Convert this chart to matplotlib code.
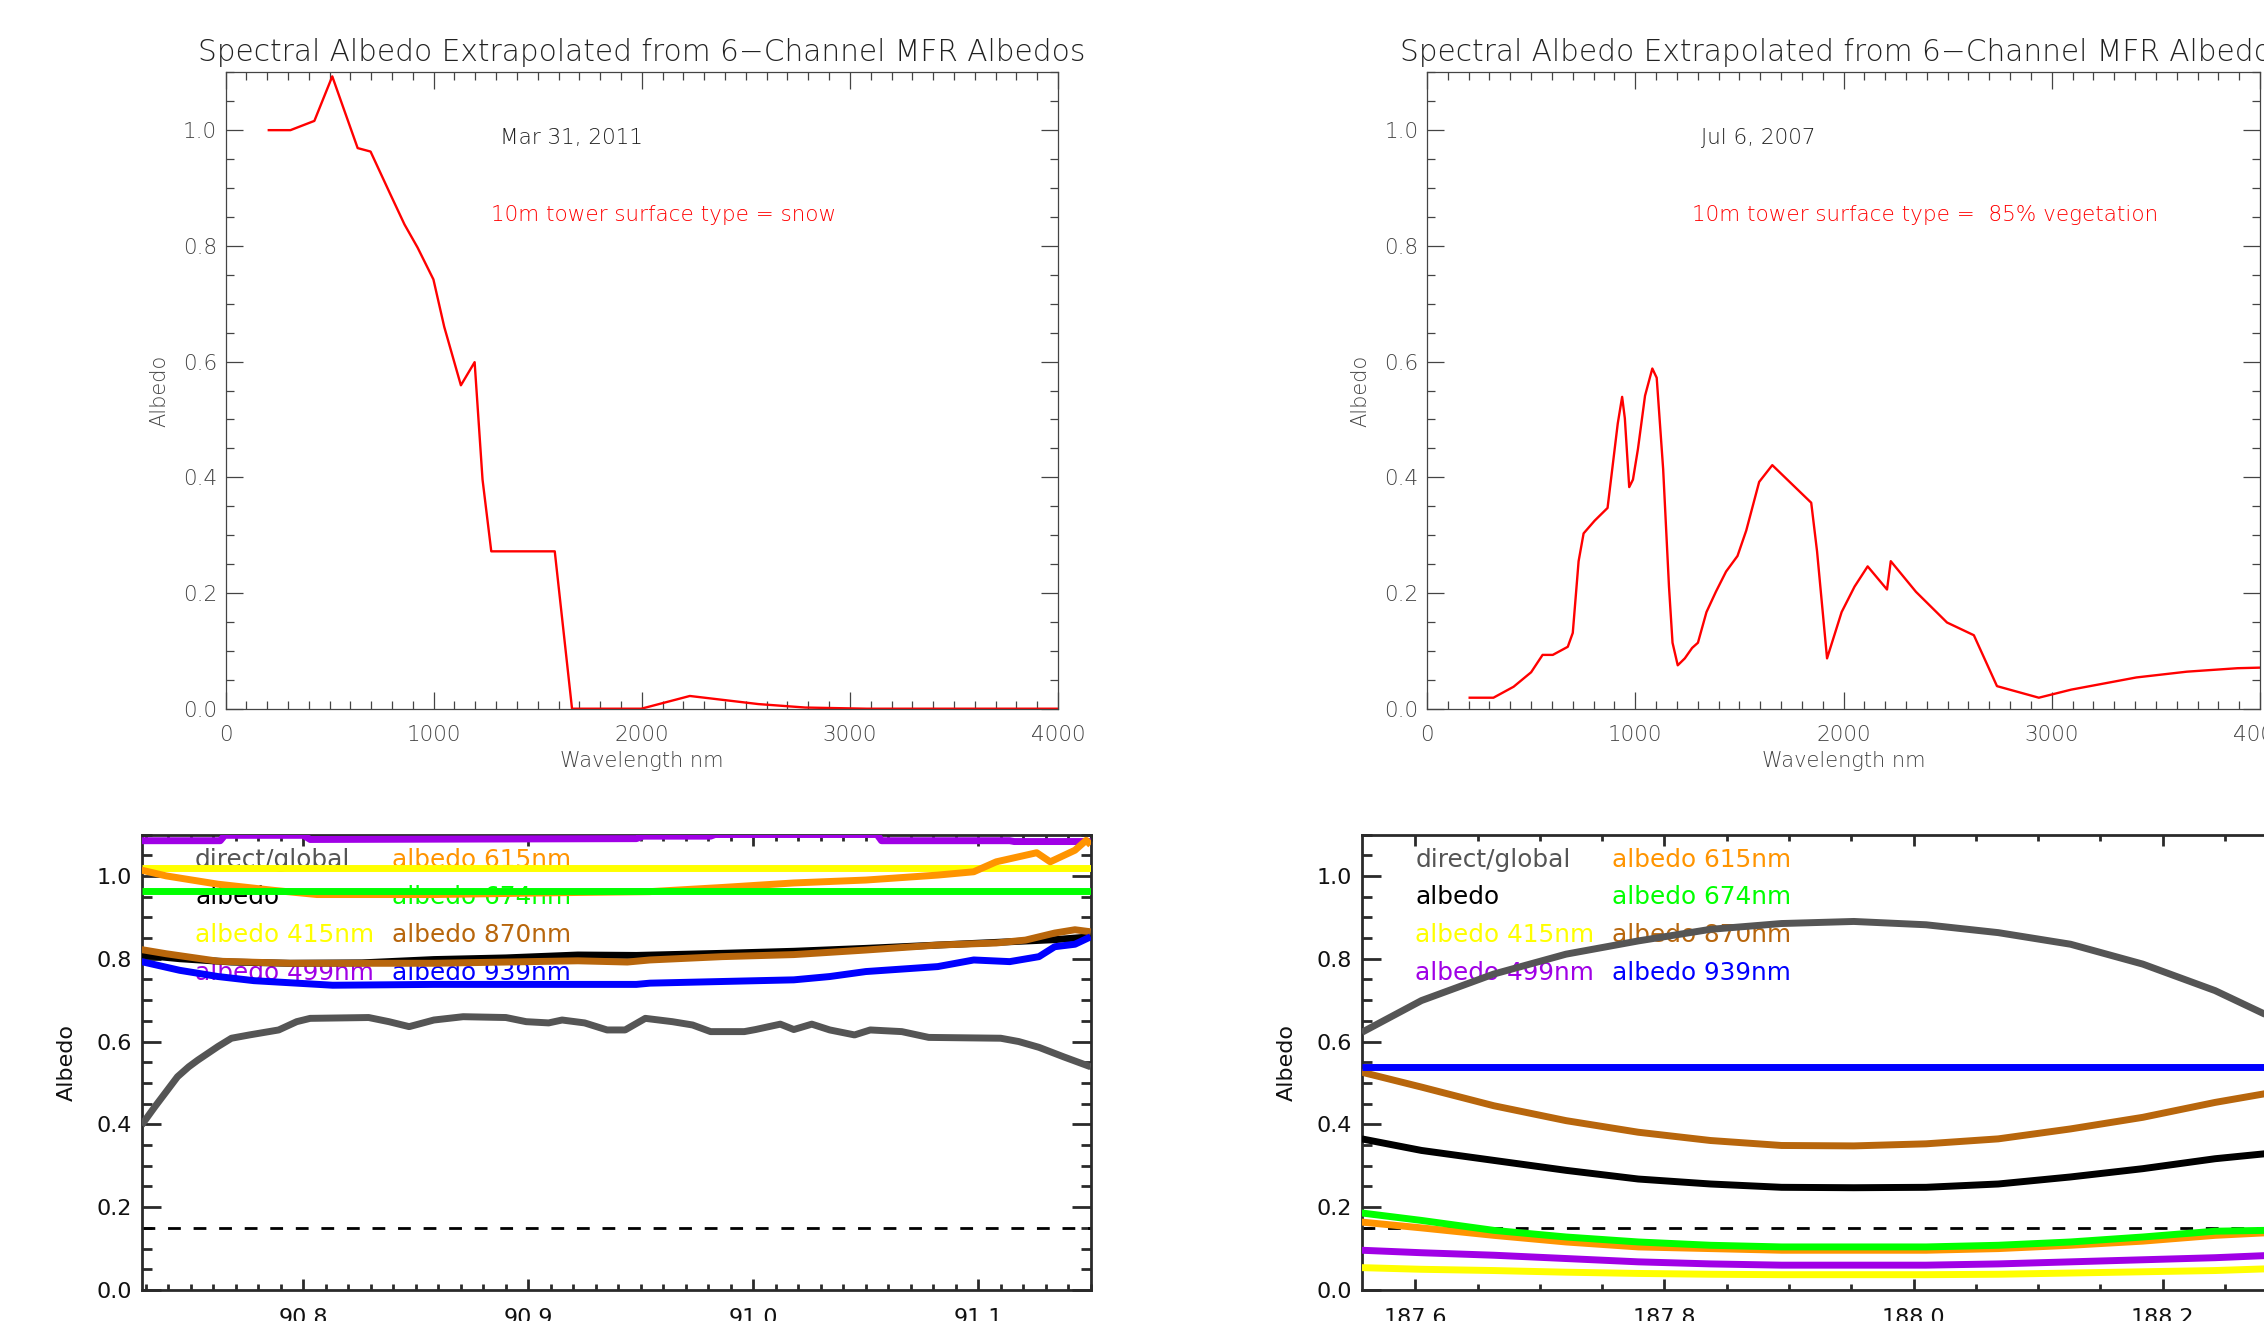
import matplotlib
matplotlib.use("Agg")
import matplotlib.pyplot as plt
from matplotlib.ticker import MultipleLocator, FormatStrFormatter

# ---------------- data ----------------
snow_wl = [208, 312, 427, 513, 565, 635, 697, 791, 860, 923, 999, 1051, 1131, 1197,
           1235, 1277, 1582, 1665, 1797, 1998, 2231, 2560, 2786, 3081, 4000]
snow_alb = [1.0, 1.0, 1.016, 1.093, 1.040, 0.969, 0.963, 0.890, 0.837, 0.797, 0.742,
            0.660, 0.559, 0.599, 0.396, 0.272, 0.272, 0.0, 0.0, 0.0, 0.022, 0.008,
            0.002, 0.0, 0.0]

veg_wl = [205, 319, 416, 500, 555, 604, 676, 700, 728, 752, 805, 867, 916, 937, 950,
          971, 989, 1013, 1047, 1082, 1103, 1134, 1162, 1179, 1204, 1238, 1273, 1301,
          1342, 1387, 1436, 1491, 1533, 1595, 1658, 1845, 1873, 1921, 1991, 2053, 2116,
          2209, 2227, 2348, 2497, 2626, 2737, 2938, 3094, 3406, 3649, 3892, 4003]
veg_alb = [0.019, 0.019, 0.038, 0.063, 0.093, 0.093, 0.107, 0.131, 0.255, 0.303, 0.325,
           0.347, 0.493, 0.539, 0.502, 0.383, 0.396, 0.449, 0.541, 0.588, 0.572, 0.414,
           0.211, 0.114, 0.075, 0.087, 0.105, 0.114, 0.167, 0.202, 0.237, 0.264, 0.308,
           0.392, 0.421, 0.356, 0.272, 0.087, 0.167, 0.211, 0.246, 0.206, 0.255, 0.202,
           0.149, 0.127, 0.039, 0.019, 0.033, 0.054, 0.064, 0.070, 0.071]

# bottom-left time series (day of year)
dg1_t = [90.728, 90.734, 90.744, 90.749, 90.753, 90.762, 90.768, 90.776, 90.789, 90.797,
         90.803, 90.829, 90.838, 90.847, 90.858, 90.871, 90.890, 90.899, 90.909, 90.915,
         90.925, 90.935, 90.943, 90.952, 90.964, 90.973, 90.981, 90.996, 91.001, 91.012,
         91.018, 91.026, 91.034, 91.045, 91.052, 91.066, 91.078, 91.110, 91.118, 91.127,
         91.138, 91.150]
dg1_v = [0.398, 0.443, 0.515, 0.539, 0.555, 0.588, 0.608, 0.616, 0.628, 0.648, 0.656,
         0.658, 0.648, 0.636, 0.652, 0.660, 0.658, 0.648, 0.645, 0.652, 0.645, 0.628,
         0.628, 0.656, 0.648, 0.640, 0.624, 0.624, 0.629, 0.642, 0.629, 0.642, 0.628,
         0.616, 0.628, 0.624, 0.610, 0.608, 0.600, 0.586, 0.563, 0.539]
alb1_t = [90.728, 90.745, 90.768, 90.794, 90.826, 90.858, 90.890, 90.922, 90.948, 90.986,
          91.018, 91.050, 91.082, 91.114, 91.134, 91.150]
alb1_v = [0.809, 0.800, 0.792, 0.789, 0.790, 0.798, 0.802, 0.809, 0.808, 0.813, 0.818,
          0.825, 0.833, 0.841, 0.846, 0.853]
a415_1_t = [90.728, 91.150]
a415_1_v = [1.018, 1.018]
a499_1_t = [90.728, 90.763, 90.765, 90.800, 90.803, 90.948, 90.951, 90.981, 90.983,
            91.055, 91.057, 91.114, 91.116, 91.150]
a499_1_v = [1.085, 1.085, 1.098, 1.098, 1.088, 1.090, 1.096, 1.096, 1.100, 1.100, 1.085,
            1.085, 1.083, 1.083]
a615_1_t = [90.728, 90.739, 90.762, 90.787, 90.806, 90.858, 90.922, 90.954, 90.986, 91.018,
            91.050, 91.082, 91.098, 91.108, 91.126, 91.132, 91.143, 91.148, 91.150]
a615_1_v = [1.014, 1.000, 0.980, 0.965, 0.955, 0.955, 0.960, 0.962, 0.972, 0.983, 0.990,
            1.002, 1.010, 1.034, 1.056, 1.034, 1.062, 1.086, 1.075]
a674_1_t = [90.728, 91.150]
a674_1_v = [0.964, 0.964]
a870_1_t = [90.728, 90.739, 90.762, 90.794, 90.826, 90.858, 90.890, 90.922, 90.944, 90.954,
            90.986, 91.018, 91.050, 91.082, 91.108, 91.121, 91.134, 91.143, 91.150]
a870_1_v = [0.822, 0.812, 0.794, 0.789, 0.789, 0.789, 0.792, 0.795, 0.792, 0.797, 0.805,
            0.810, 0.821, 0.833, 0.838, 0.845, 0.862, 0.870, 0.865]
a939_1_t = [90.728, 90.745, 90.762, 90.778, 90.813, 90.858, 90.890, 90.948, 90.954, 90.986,
            91.018, 91.034, 91.050, 91.082, 91.098, 91.114, 91.127, 91.134, 91.143, 91.150]
a939_1_v = [0.793, 0.772, 0.757, 0.747, 0.736, 0.738, 0.738, 0.738, 0.741, 0.745, 0.749,
            0.757, 0.769, 0.781, 0.797, 0.793, 0.805, 0.829, 0.835, 0.853]

# bottom-right time series
t2 = [187.557, 187.605, 187.663, 187.721, 187.779, 187.837, 187.894, 187.952, 188.010,
      188.068, 188.126, 188.184, 188.242, 188.282, 188.320]
dg2_v = [0.622, 0.699, 0.763, 0.811, 0.843, 0.871, 0.885, 0.890, 0.882, 0.863, 0.835,
         0.787, 0.723, 0.666, 0.620]
alb2_v = [0.365, 0.337, 0.313, 0.289, 0.268, 0.256, 0.248, 0.247, 0.248, 0.256, 0.273,
          0.293, 0.317, 0.329, 0.345]
a415_2_v = [0.054, 0.050, 0.047, 0.043, 0.040, 0.038, 0.037, 0.037, 0.037, 0.038, 0.041,
            0.044, 0.047, 0.051, 0.054]
a499_2_v = [0.096, 0.090, 0.084, 0.076, 0.068, 0.063, 0.060, 0.060, 0.060, 0.063, 0.068,
            0.073, 0.078, 0.083, 0.088]
a615_2_v = [0.164, 0.150, 0.132, 0.116, 0.104, 0.100, 0.096, 0.096, 0.096, 0.100, 0.108,
            0.118, 0.132, 0.138, 0.145]
a674_2_v = [0.186, 0.168, 0.144, 0.128, 0.116, 0.108, 0.104, 0.104, 0.104, 0.108, 0.116,
            0.128, 0.142, 0.144, 0.155]
a870_2_v = [0.526, 0.490, 0.445, 0.409, 0.381, 0.361, 0.349, 0.348, 0.353, 0.365, 0.389,
            0.417, 0.453, 0.474, 0.500]
a939_2_v = [0.539] * 15

threshold = 0.15

legend_labels = [["direct/global", "albedo 615nm"],
                 ["albedo", "albedo 674nm"],
                 ["albedo 415nm", "albedo 870nm"],
                 ["albedo 499nm", "albedo 939nm"]]
legend_colors = [["#555555", "#ff9400"],
                 ["#000000", "#00ff00"],
                 ["#ffff00", "#b8660c"],
                 ["#a000e6", "#0000ff"]]

C_GRAY = "#555555"; C_BLACK = "#000000"; C_415 = "#ffff00"; C_499 = "#a000e6"
C_615 = "#ff9400"; C_674 = "#00ff00"; C_870 = "#b8660c"; C_939 = "#0000ff"

TITLE = "Spectral Albedo Extrapolated from 6\u2212Channel MFR Albedos"

# ---------------- figure ----------------
W, H = 2264, 1321
fig = plt.figure(figsize=(W / 100, H / 100), dpi=100)

def box(l, t, r, b):
    return [l / W, 1 - b / H, (r - l) / W, (b - t) / H]

ax1 = fig.add_axes(box(225.5, 72.3, 1058, 708.7))
ax2 = fig.add_axes(box(1427, 72.3, 2260, 708.7))
ax3 = fig.add_axes(box(141.5, 834.5, 1090.7, 1290))
ax4 = fig.add_axes(box(1361.7, 834.5, 2311, 1290))

FONT = ["DejaVu Sans"]
TOPC = "#444444"

def style_top(ax):
    ax.set_xlim(0, 4000)
    ax.set_ylim(0, 1.1)
    ax.xaxis.set_major_locator(MultipleLocator(1000))
    ax.xaxis.set_minor_locator(MultipleLocator(100))
    ax.yaxis.set_major_locator(MultipleLocator(0.2))
    ax.yaxis.set_minor_locator(MultipleLocator(0.05))
    ax.yaxis.set_major_formatter(FormatStrFormatter("%.1f"))
    ax.tick_params(which="both", direction="in", top=True, right=True, color=TOPC,
                   width=0.9, labelcolor=TOPC, labelsize=15.5)
    ax.tick_params(which="major", length=12)
    ax.tick_params(which="minor", length=6)
    ax.tick_params(axis="x", which="major", pad=12)
    ax.tick_params(axis="y", which="major", pad=6)
    for s in ax.spines.values():
        s.set_color(TOPC)
        s.set_linewidth(0.9)
    for lab in ax.get_xticklabels() + ax.get_yticklabels():
        lab.set_family(FONT)
        lab.set_fontweight("light")
    ax.set_xlabel("Wavelength nm", fontsize=15, color=TOPC, family=FONT,
                  fontweight="light", labelpad=4)
    ax.set_ylabel("Albedo", fontsize=15, color=TOPC, family=FONT,
                  fontweight="light", labelpad=10)
    ax.set_title(TITLE, fontsize=21.3, color="#222222", family=FONT,
                 fontweight="light", pad=8)

style_top(ax1)
style_top(ax2)

ax1.plot(snow_wl, snow_alb, color="red", lw=1.7)
ax2.plot(veg_wl, veg_alb, color="red", lw=1.7)
ax2.set_xlim(0, 4000)

ax1.text(1319, 0.987, "Mar 31, 2011", fontsize=15.5, color="#222222", family=FONT,
         fontweight="light", va="center", ha="left")
ax1.text(1276, 0.854, "10m tower surface type = snow", fontsize=15.5, color="red",
         family=FONT, fontweight="light", va="center", ha="left")
ax2.text(1315, 0.987, "Jul 6, 2007", fontsize=15.5, color="#222222", family=FONT,
         fontweight="light", va="center", ha="left")
ax2.text(1272, 0.854, "10m tower surface type =  85% vegetation", fontsize=15.5,
         color="red", family=FONT, fontweight="light", va="center", ha="left")

BOTC = "#2a2a2a"

def style_bottom(ax, xmaj, xmin):
    ax.set_ylim(0, 1.1)
    ax.xaxis.set_major_locator(MultipleLocator(xmaj))
    ax.xaxis.set_minor_locator(MultipleLocator(xmin))
    ax.xaxis.set_major_formatter(FormatStrFormatter("%.1f"))
    ax.yaxis.set_major_locator(MultipleLocator(0.2))
    ax.yaxis.set_minor_locator(MultipleLocator(0.05))
    ax.yaxis.set_major_formatter(FormatStrFormatter("%.1f"))
    ax.tick_params(which="both", direction="in", top=True, right=True, color=BOTC,
                   width=2.0, labelcolor="#111111", labelsize=16)
    ax.tick_params(axis="y", which="major", length=14, pad=7)
    ax.tick_params(axis="y", which="minor", length=7)
    ax.tick_params(axis="x", which="major", length=8, pad=13)
    ax.tick_params(axis="x", which="minor", length=4.5)
    for s in ax.spines.values():
        s.set_color(BOTC)
        s.set_linewidth(2.0)
    ax.set_ylabel("Albedo", fontsize=16, color="#111111", family=FONT, labelpad=14)
    for i, row in enumerate(legend_labels):
        for j, lab in enumerate(row):
            ax.text([0.0564, 0.2635][j], [0.9293, 0.8468, 0.7647, 0.6806][i], lab,
                    transform=ax.transAxes, color=legend_colors[i][j], fontsize=17.8,
                    family=FONT, va="baseline", ha="left", zorder=1)

style_bottom(ax3, 0.1, 0.01)
style_bottom(ax4, 0.2, 0.05)
ax3.set_xlim(90.728, 91.150)
ax4.set_xlim(187.557, 188.319)

LW = 5.0
def draw(ax, series):
    ax.axhline(threshold, color="black", lw=2.0, dashes=(4.6, 4.6), zorder=2)
    for k, (t, v, c) in enumerate(series):
        ax.plot(t, v, color=c, lw=LW, zorder=3 + k, solid_capstyle="butt")

draw(ax3, [(dg1_t, dg1_v, C_GRAY), (alb1_t, alb1_v, C_BLACK),
           (a415_1_t, a415_1_v, C_415), (a499_1_t, a499_1_v, C_499),
           (a615_1_t, a615_1_v, C_615), (a674_1_t, a674_1_v, C_674),
           (a870_1_t, a870_1_v, C_870), (a939_1_t, a939_1_v, C_939)])
draw(ax4, [(t2, dg2_v, C_GRAY), (t2, alb2_v, C_BLACK), (t2, a415_2_v, C_415),
           (t2, a499_2_v, C_499), (t2, a615_2_v, C_615), (t2, a674_2_v, C_674),
           (t2, a870_2_v, C_870), (t2, a939_2_v, C_939)])

fig.savefig("out.png", dpi=100)
